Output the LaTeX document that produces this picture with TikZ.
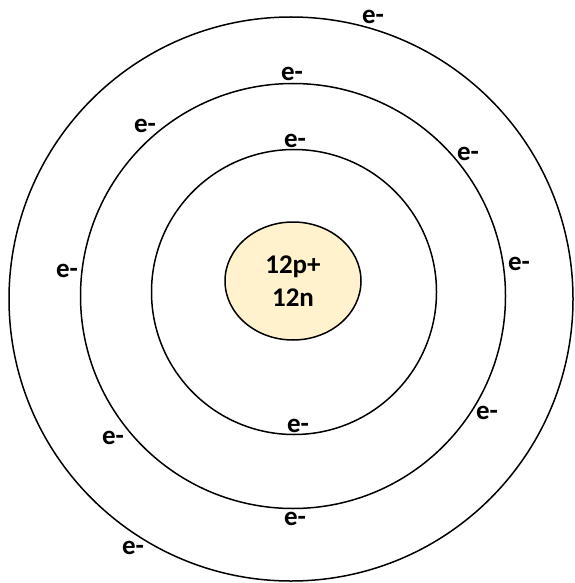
\documentclass[tikz,border=0pt]{standalone}
\usepackage{fontspec}
\setmainfont{Carlito}
\usetikzlibrary{shapes.geometric}

\definecolor{nucleusfill}{HTML}{FFF2CC}

\begin{document}
\begin{tikzpicture}[
  x=1pt, y=-1pt,
  font=\bfseries,
  shell/.style={draw, line width=1.5pt},
  nucleus/.style={draw, ellipse, fill=nucleusfill, line width=1.5pt,
                  minimum width=136pt, minimum height=118pt, inner sep=0pt,
                  align=center, font=\bfseries\fontsize{27}{33}\selectfont},
  electron/.style={inner sep=0pt, font=\bfseries\fontsize{27}{32}\selectfont}
]
\useasboundingbox (0,0) rectangle (574,583);

% Shells, outer to inner
\draw[shell] (291,299) circle[radius=282];
\draw[shell] (293,296) circle[radius=212.5];
\draw[shell] (294,292) circle[radius=142.5];

% Nucleus
\node[nucleus] (core) at (293,281) {12p+\\12n};

% Electrons: 2 inner, 8 middle, 2 outer
\foreach \ex/\ey [count=\i] in {295/141, 298/426,
    292/74, 145/126, 468/154, 67/271, 519/264, 487/413, 113/438, 295/519,
    373/17, 133/548} {
  \node[electron] (e\i) at (\ex,\ey) {e-};
}

\end{tikzpicture}
\end{document}
